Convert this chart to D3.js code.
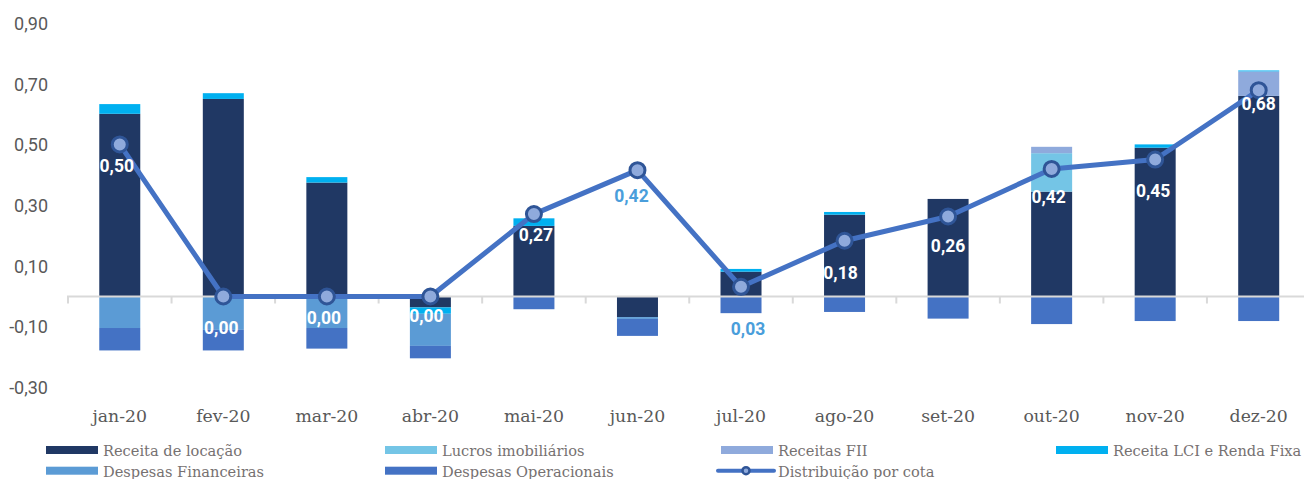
<!DOCTYPE html>
<html>
<head>
<meta charset="utf-8">
<script src="https://cdn.jsdelivr.net/npm/d3@7"></script>
<style>
  html, body { margin: 0; padding: 0; background: #ffffff; }
  svg { display: block; }
</style>
</head>
<body>
<svg id="chart" width="1304" height="479"></svg>
<script>
// ---- data ----
const categories = ["jan-20","fev-20","mar-20","abr-20","mai-20","jun-20","jul-20","ago-20","set-20","out-20","nov-20","dez-20"];
const receitaLocacao   = [0.603, 0.652, 0.376, -0.036, 0.233, -0.068, 0.082, 0.270, 0.322, 0.346, 0.491, 0.662];
const lucrosImobiliarios = [0, 0, 0, 0, 0, 0, 0, 0, 0, 0.127, 0, 0];
const receitasFII      = [0, 0, 0, 0, 0, 0, 0, 0, 0, 0.021, 0, 0.081];
const receitaLCI       = [0.032, 0.019, 0.018, -0.021, 0.025, 0, 0.009, 0.009, 0, 0, 0.011, 0.003];
const despesasFinanceiras = [-0.104, -0.110, -0.104, -0.106, 0, -0.006, 0, 0, 0, 0, 0, 0];
const despesasOperacionais = [-0.074, -0.068, -0.068, -0.041, -0.042, -0.056, -0.055, -0.051, -0.073, -0.091, -0.081, -0.081];
const distribuicaoPorCota = [0.502, 0.0, 0.0, 0.0, 0.272, 0.417, 0.032, 0.184, 0.264, 0.421, 0.452, 0.681];
const yTicks = [-0.3, -0.1, 0.1, 0.3, 0.5, 0.7, 0.9];

const seriesNames = ["Receita de locação","Lucros imobiliários","Receitas FII","Receita LCI e Renda Fixa","Despesas Financeiras","Despesas Operacionais"];
const seriesValues = [receitaLocacao, lucrosImobiliarios, receitasFII, receitaLCI, despesasFinanceiras, despesasOperacionais];

// ---- styles / layout ----
const seriesColors = ["#203864","#74C5E6","#8FAADC","#00B0F0","#5B9BD5","#4472C4"];
const lineColor = "#4472C4", markerStroke = "#2F5597", markerFill = "#8FAADC";
// label nudges (px) relative to each point
const labelDx = [-3, -2, -3, -4, 2, -6, 7, -4, 0, -3, -2, 0];
const labelDy = [21, 31, 21, 19, 21, 26, 42, 32, 29, 28, 31, 14];
const labelColors = ["#fff","#fff","#fff","#fff","#fff","#4A9EDB","#4A9EDB","#fff","#fff","#fff","#fff","#fff"];

const svg = d3.select("#chart");
const fmt = v => v.toFixed(2).replace(".", ",");

const x = d3.scaleBand().domain(categories).range([68, 68 + 12 * 103.54]).paddingInner(0.604).paddingOuter(0.302);
const y = d3.scaleLinear().domain([-0.3, 0.9]).range([387.4, 23.8]);
const cx = c => x(c) + x.bandwidth() / 2;

// y tick labels
svg.append("g").selectAll("text").data(yTicks).join("text")
  .attr("x", 48).attr("y", d => y(d)).attr("dy", "0.35em")
  .attr("text-anchor", "end")
  .style("font-family", "Roboto, sans-serif").style("font-size", "18px").attr("fill", "#595959")
  .text(d => fmt(d));

// stacked bars
const rects = [];
categories.forEach((c, i) => {
  let pos = 0, neg = 0;
  seriesValues.forEach((arr, s) => {
    const v = arr[i];
    if (v === 0) return;
    let y0, y1;
    if (v > 0) { y0 = pos; y1 = pos + v; pos = y1; }
    else { y0 = neg; y1 = neg + v; neg = y1; }
    rects.push({c, s, y0, y1});
  });
});
svg.append("g").selectAll("rect").data(rects).join("rect")
  .attr("x", d => x(d.c)).attr("width", x.bandwidth())
  .attr("y", d => y(Math.max(d.y0, d.y1)))
  .attr("height", d => Math.abs(y(d.y0) - y(d.y1)))
  .attr("fill", d => seriesColors[d.s]);

// zero axis
const axisG = svg.append("g");
axisG.append("line").attr("x1", 67).attr("x2", 1304).attr("y1", y(0)).attr("y2", y(0))
  .attr("stroke", "#D9D9D9").attr("stroke-width", 2);
const bounds = d3.range(13).map(k => 68 + k * x.step());
axisG.selectAll("line.tick").data(bounds).join("line").attr("class", "tick")
  .attr("x1", d => d).attr("x2", d => d).attr("y1", y(0)).attr("y2", y(0) + 7)
  .attr("stroke", "#D9D9D9").attr("stroke-width", 2);

// category labels
svg.append("g").selectAll("text").data(categories).join("text")
  .attr("x", d => cx(d)).attr("y", 421.5).attr("text-anchor", "middle")
  .style("font-family", "'DejaVu Serif', serif").style("font-size", "17.3px").attr("fill", "#595959")
  .text(d => d);

// line
const line = d3.line().x((d, i) => cx(categories[i])).y(d => y(d));
svg.append("path").datum(distribuicaoPorCota).attr("d", line)
  .attr("fill", "none").attr("stroke", lineColor).attr("stroke-width", 5).attr("stroke-linejoin", "round");
svg.append("g").selectAll("circle").data(distribuicaoPorCota).join("circle")
  .attr("cx", (d, i) => cx(categories[i])).attr("cy", d => y(d)).attr("r", 7.5)
  .attr("fill", markerFill).attr("stroke", markerStroke).attr("stroke-width", 3);

// data labels
svg.append("g").selectAll("text").data(distribuicaoPorCota).join("text")
  .attr("x", (d, i) => cx(categories[i]) + labelDx[i])
  .attr("y", (d, i) => y(d) + labelDy[i]).attr("dy", "0.35em")
  .attr("text-anchor", "middle")
  .style("font-family", "Roboto, sans-serif").style("font-size", "17.5px").style("font-weight", "bold")
  .attr("fill", (d, i) => labelColors[i])
  .text(d => fmt(d));

// legend
const legendItems = [
  {name: seriesNames[0], color: seriesColors[0], col: 0, row: 0, type: "rect"},
  {name: seriesNames[1], color: seriesColors[1], col: 1, row: 0, type: "rect"},
  {name: seriesNames[2], color: seriesColors[2], col: 2, row: 0, type: "rect"},
  {name: seriesNames[3], color: seriesColors[3], col: 3, row: 0, type: "rect"},
  {name: seriesNames[4], color: seriesColors[4], col: 0, row: 1, type: "rect"},
  {name: seriesNames[5], color: seriesColors[5], col: 1, row: 1, type: "rect"},
  {name: "Distribuição por cota", color: lineColor, col: 2, row: 1, type: "line"}
];
const colX = [46, 385, 721, 1056];
const rowY = [450, 470.7];
const lg = svg.append("g").selectAll("g").data(legendItems).join("g")
  .attr("transform", d => `translate(${colX[d.col]},${rowY[d.row]})`);
lg.filter(d => d.type === "rect").append("rect")
  .attr("x", 0).attr("y", -4).attr("width", 52).attr("height", 8).attr("fill", d => d.color);
const ll = lg.filter(d => d.type === "line");
ll.append("line").attr("x1", -3).attr("x2", 53).attr("y1", 0).attr("y2", 0)
  .attr("stroke", lineColor).attr("stroke-width", 4).attr("stroke-linecap", "round");
ll.append("circle").attr("cx", 25).attr("cy", 0).attr("r", 3.5)
  .attr("fill", markerFill).attr("stroke", markerStroke).attr("stroke-width", 2.5);
lg.append("text").attr("x", 57).attr("y", 5.8)
  .style("font-family", "'DejaVu Serif', serif").style("font-size", "14.6px").attr("fill", "#767171")
  .text(d => d.name);
</script>
</body>
</html>
